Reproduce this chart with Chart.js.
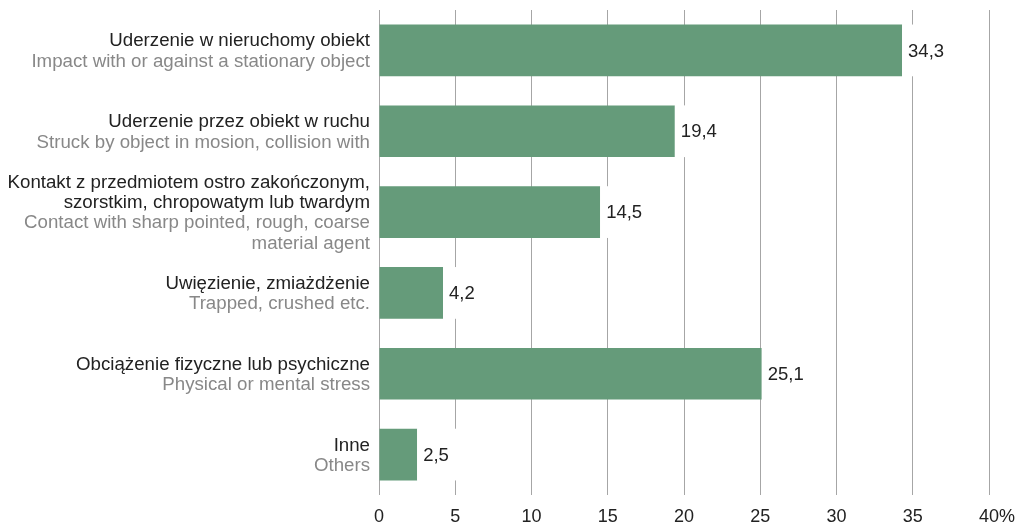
<!DOCTYPE html>
<html>
<head>
<meta charset="utf-8">
<script src="https://cdn.jsdelivr.net/npm/chart.js@4"></script>
<style>
  html, body { margin: 0; padding: 0; background: #fff; }
  #wrap { width: 1018px; height: 523px; }
</style>
</head>
<body>
<div id="wrap"><canvas id="chart" width="1018" height="523"></canvas></div>
<script>
// etykiety kategorii: po polsku (czarne) i po angielsku (szare)
const labelsPl = [
    ["Uderzenie w nieruchomy obiekt"],
    ["Uderzenie przez obiekt w ruchu"],
    ["Kontakt z przedmiotem ostro zakończonym,", "szorstkim, chropowatym lub twardym"],
    ["Uwięzienie, zmiażdżenie"],
    ["Obciążenie fizyczne lub psychiczne"],
    ["Inne"]
];
const labelsEn = [
    ["Impact with or against a stationary object"],
    ["Struck by object in mosion, collision with"],
    ["Contact with sharp pointed, rough, coarse", "material agent"],
    ["Trapped, crushed etc."],
    ["Physical or mental stress"],
    ["Others"]
];
const values = [34.3, 19.4, 14.5, 4.2, 25.1, 2.5];
const xTicks = [0, 5, 10, 15, 20, 25, 30, 35, 40];

const FONT = "'Liberation Sans', Arial, sans-serif";
const TICK_SIZE = 18;
const TICK_PAD = 11;
const fmt = v => v.toFixed(1).replace(".", ",");

// opisy kategorii po lewej stronie osi
const categoryLabels = {
    id: "categoryLabels",
    afterDraw(chart) {
        const ctx = chart.ctx;
        const y = chart.scales.y;
        const right = chart.chartArea.left - 9;
        ctx.save();
        ctx.font = "18.7px " + FONT;
        ctx.textAlign = "right";
        ctx.textBaseline = "middle";
        labelsPl.forEach((pl, i) => {
            const lines = pl.map(t => [t, "#222222"]).concat(labelsEn[i].map(t => [t, "#888888"]));
            const cy = y.getPixelForValue(i);
            let ly = cy - (lines.length - 1) * 10.2 + 1;
            lines.forEach(([t, c]) => {
                ctx.fillStyle = c;
                ctx.fillText(t, right, ly);
                ly += 20.4;
            });
        });

        // znak % doklejony do ostatniej wartości osi
        const x = chart.scales.x;
        const last = xTicks[xTicks.length - 1];
        ctx.font = TICK_SIZE + "px " + FONT;
        const w = ctx.measureText(String(last)).width;
        ctx.textAlign = "left";
        ctx.textBaseline = "middle";
        ctx.fillStyle = "#222222";
        ctx.fillText("%", x.getPixelForValue(last) + w / 2, x.top + TICK_PAD + TICK_SIZE * 1.2 / 2);
        ctx.restore();
    }
};

// wartości przy słupkach na białym tle
const valueLabels = {
    id: "valueLabels",
    afterDatasetsDraw(chart) {
        const ctx = chart.ctx;
        const meta = chart.getDatasetMeta(0);
        ctx.save();
        ctx.font = "18.5px " + FONT;
        ctx.textAlign = "left";
        ctx.textBaseline = "middle";
        meta.data.forEach((bar, i) => {
            const txt = fmt(values[i]);
            const w = ctx.measureText(txt).width;
            ctx.fillStyle = "#ffffff";
            ctx.fillRect(bar.x, bar.y - bar.height / 2, w + 14, bar.height);
            ctx.fillStyle = "#222222";
            ctx.fillText(txt, bar.x + 6, bar.y + 1);
        });
        ctx.restore();
    }
};

new Chart(document.getElementById("chart"), {
    type: "bar",
    data: {
        labels: labelsPl.map(l => l.join(" ")),
        datasets: [{
            data: values,
            backgroundColor: "#659b7a",
            borderWidth: 0,
            categoryPercentage: 0.8,
            barPercentage: 0.8
        }]
    },
    options: {
        indexAxis: "y",
        responsive: false,
        animation: false,
        layout: { padding: { left: 379, right: 29, top: 10, bottom: 0 } },
        plugins: { legend: { display: false }, tooltip: { enabled: false } },
        scales: {
            y: { display: false },
            x: {
                min: 0,
                max: 40,
                afterBuildTicks(scale) { scale.ticks = xTicks.map(v => ({ value: v })); },
                afterFit(scale) { scale.height = 28; },
                border: { display: false },
                grid: { color: "#a6a6a6", lineWidth: 1, drawTicks: false },
                ticks: {
                    color: "#222222",
                    font: { family: FONT, size: TICK_SIZE },
                    padding: TICK_PAD,
                    maxRotation: 0
                }
            }
        }
    },
    plugins: [categoryLabels, valueLabels]
});
</script>
</body>
</html>
